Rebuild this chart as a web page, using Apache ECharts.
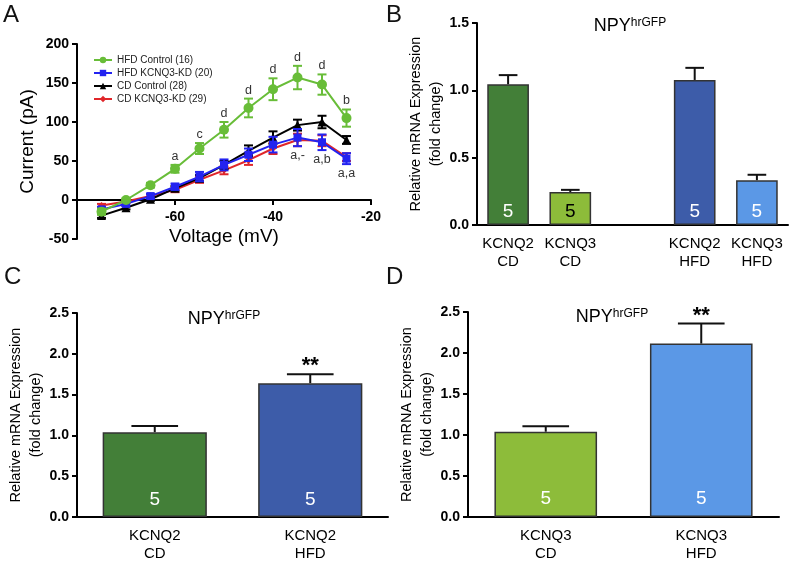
<!DOCTYPE html>
<html><head><meta charset="utf-8">
<script src="https://cdn.jsdelivr.net/npm/echarts@6/dist/echarts.min.js"></script>
<style>html,body{margin:0;padding:0;background:#fff}#c{width:790px;height:563px}</style>
</head><body><div id="c"></div>
<script>
// ---- Panel A data ----
const voltages = [-75,-70,-65,-60,-55,-50,-45,-40,-35,-30,-25];
const hfdControl    = [-15,0,19,40,66,90,118,142,157,148,105];
const hfdControlErr = [4,2,3,5,7,10,12,14,15,13,11];
const hfdKD         = [-12,-5,5,17,30,45,58,71,80,74,53];
const hfdKDErr      = [3,2,3,4,6,7,8,10,11,10,7];
const cdControl     = [-20,-10,1,15,28,45,63,80,96,100,77];
const cdControlErr  = [3,2,2,3,4,5,7,8,7,8,5];
const cdKD          = [-7,-2,5,13,26,38,51,66,77,76,55];
const cdKDErr       = [2,2,2,3,4,5,6,7,8,7,5];
const annotAbove = ['','','','a','c','d','d','d','d','d','b'];
const annotBelow = ['','','','','','','','','a,-','a,b','a,a'];
const namesA = ['HFD Control (16)','HFD KCNQ3-KD (20)','CD Control (28)','CD KCNQ3-KD (29)'];
const yTicksA = [-50,0,50,100,150,200];
const xTicksA = [-60,-40,-20];

// ---- Panel B data ----
const catB = ['KCNQ2\nCD','KCNQ3\nCD','KCNQ2\nHFD','KCNQ3\nHFD'];
const valB = [1.045,0.245,1.077,0.333];
const errB = [0.068,0.016,0.09,0.04];
const nB = [5,5,5,5];
// ---- Panel C data ----
const catC = ['KCNQ2\nCD','KCNQ2\nHFD'];
const valC = [1.04,1.64];
const errC = [0.075,0.11];
const nC = [5,5];
const sigC = ['','**'];
// ---- Panel D data ----
const catD = ['KCNQ3\nCD','KCNQ3\nHFD'];
const valD = [1.04,2.115];
const errD = [0.068,0.245];
const nD = [5,5];
const sigD = ['','**'];

const FONT = '"Liberation Sans", Arial, Helvetica, sans-serif';
const cGreen='#68bd38', cBlue='#2323f0', cBlack='#000000', cRed='#e0262a';
const barDarkGreen='#437f38', barLightGreen='#8dbc3a', barDarkBlue='#3d5ca9', barLightBlue='#5b98e6';

const chart = echarts.init(document.getElementById('c'), null, {renderer:'canvas'});

function pairs(xs, ys){ return xs.map((x,i)=>[x, ys[i]]); }
function errData(xs, ys, es){ return xs.map((x,i)=>[x, ys[i], es[i]]); }
function errRender(color){
  return function(params, api){
    const x=api.value(0), m=api.value(1), e=api.value(2);
    const p=api.coord([x,m+e]), q=api.coord([x,m-e]);
    const w=4.5;
    const st={stroke:color, lineWidth:2};
    return {type:'group', children:[
      {type:'line', shape:{x1:p[0],y1:p[1],x2:q[0],y2:q[1]}, style:st},
      {type:'line', shape:{x1:p[0]-w,y1:p[1],x2:p[0]+w,y2:p[1]}, style:st},
      {type:'line', shape:{x1:q[0]-w,y1:q[1],x2:q[0]+w,y2:q[1]}, style:st}
    ]};
  };
}
const labelStyleA = {fontFamily:FONT, fontSize:14, fontWeight:'bold', color:'#000'};
const axisLineA = {lineStyle:{color:'#000', width:2}};

function barAxisCats(cats, gapIndex){
  const out = cats.slice();
  if (gapIndex!=null) out.splice(gapIndex,0,'');
  return out;
}
function barData(vals, colors, labelColors, ns, gapIndex, dist){
  const out = vals.map((v,i)=>({value:v, itemStyle:{color:colors[i]},
    label:{show:true, formatter:String(ns[i]), color:labelColors[i], position:'insideBottom', distance:dist, fontSize:19, fontFamily:FONT}}));
  if (gapIndex!=null) out.splice(gapIndex,0,{value:null});
  return out;
}
function barErrData(vals, errs, gapIndex){
  return vals.map((v,i)=>[ (gapIndex!=null && i>=gapIndex)? i+1 : i, v, errs[i] ]);
}
function barErrRender(sigs){
  return function(params, api){
    const x=api.value(0), m=api.value(1), e=api.value(2);
    const base=api.coord([x,m]), top=api.coord([x,m+e]);
    const band=api.size([1,0])[0];
    const w=band*0.15;
    const st={stroke:'#111', lineWidth:2};
    const children=[
      {type:'line', shape:{x1:base[0],y1:base[1],x2:top[0],y2:top[1]}, style:st},
      {type:'line', shape:{x1:top[0]-w,y1:top[1],x2:top[0]+w,y2:top[1]}, style:st}
    ];
    const s = sigs ? sigs[params.dataIndex] : '';
    if (s) children.push({type:'text', x:top[0], y:top[1]-19, style:{text:s, font:'bold 22px '+FONT, fill:'#000', align:'center', verticalAlign:'top'}});
    return {type:'group', children};
  };
}
const barAxisLabel = {fontFamily:FONT, fontSize:15, color:'#000', lineHeight:18, margin:10, interval:0};
const barYLabel = {fontFamily:FONT, fontSize:14, fontWeight:'bold', color:'#000', margin:8, formatter:v=>v.toFixed(1)};
const barYName = {fontFamily:FONT, fontSize:14.5, color:'#000', lineHeight:20};
const barBorder = {borderColor:'#333', borderWidth:1.5};
const tick = {show:true, length:5, lineStyle:{width:2,color:'#000'}};

const option = {
  animation:false,
  backgroundColor:'#fff',
  textStyle:{fontFamily:FONT},
  legend:{
    data:namesA, orient:'vertical', left:88, top:50, itemWidth:18, itemHeight:8, itemGap:3,
    textStyle:{fontFamily:FONT, fontSize:10, color:'#222'}
  },
  grid:[
    {left:77, top:44, width:294, height:195},
    {left:477, top:23, width:311, height:202},
    {left:77, top:313, width:311, height:206},
    {left:468, top:312, width:311, height:206},
    {left:77, top:44, width:294, height:156}   // axis frame for panel A's zero line
  ],
  xAxis:[
    {gridIndex:0, type:'value', min:-80, max:-20, interval:20, show:false},
    {gridIndex:1, type:'category', data:barAxisCats(catB,2),
     axisLine:axisLineA, axisTick:{alignWithLabel:true, length:5, interval:(i)=>i!==2, lineStyle:{width:2,color:'#000'}},
     axisLabel:barAxisLabel},
    {gridIndex:2, type:'category', data:catC,
     axisLine:axisLineA, axisTick:{alignWithLabel:true, length:5, lineStyle:{width:2,color:'#000'}},
     axisLabel:barAxisLabel},
    {gridIndex:3, type:'category', data:catD,
     axisLine:axisLineA, axisTick:{alignWithLabel:true, length:5, lineStyle:{width:2,color:'#000'}},
     axisLabel:barAxisLabel},
    {gridIndex:4, type:'value', min:-80, max:-20, interval:20, position:'bottom',
     axisLine:Object.assign({onZero:false}, axisLineA), axisTick:tick,
     splitLine:{show:false},
     axisLabel:Object.assign({margin:10, formatter:v=> xTicksA.indexOf(v)>=0 ? String(v) : ''}, labelStyleA),
     name:'Voltage (mV)', nameLocation:'middle', nameGap:27,
     nameTextStyle:{fontFamily:FONT, fontSize:19, color:'#000'}}
  ],
  yAxis:[
    {gridIndex:0, type:'value', min:-50, max:200, interval:50,
     axisLine:Object.assign({show:true, onZero:false}, axisLineA), axisTick:tick,
     splitLine:{show:false}, axisLabel:Object.assign({margin:8}, labelStyleA),
     name:'Current (pA)', nameLocation:'middle', nameGap:40,
     nameTextStyle:{fontFamily:FONT, fontSize:19, color:'#000'}},
    {gridIndex:1, type:'value', min:0, max:1.5, interval:0.5,
     axisLine:{show:true, lineStyle:{color:'#000', width:2}}, axisTick:tick,
     splitLine:{show:false}, axisLabel:barYLabel,
     name:'Relative mRNA Expression\n(fold change)', nameLocation:'middle', nameGap:30, nameTextStyle:barYName},
    {gridIndex:2, type:'value', min:0, max:2.5, interval:0.5,
     axisLine:{show:true, lineStyle:{color:'#000', width:2}}, axisTick:tick,
     splitLine:{show:false}, axisLabel:barYLabel,
     name:'Relative mRNA Expression\n(fold change)', nameLocation:'middle', nameGap:30, nameTextStyle:barYName},
    {gridIndex:3, type:'value', min:0, max:2.5, interval:0.5,
     axisLine:{show:true, lineStyle:{color:'#000', width:2}}, axisTick:tick,
     splitLine:{show:false}, axisLabel:barYLabel,
     name:'Relative mRNA Expression\n(fold change)', nameLocation:'middle', nameGap:28, nameTextStyle:barYName},
    {gridIndex:4, type:'value', min:0, max:200, show:false}
  ],
  series:[
    {type:'custom', name:'errCDKD', xAxisIndex:0, yAxisIndex:0, data:errData(voltages,cdKD,cdKDErr), renderItem:errRender(cRed), z:2},
    {type:'line', name:namesA[3], xAxisIndex:0, yAxisIndex:0, data:pairs(voltages,cdKD), color:cRed,
     symbol:'diamond', symbolSize:7, lineStyle:{width:2}, itemStyle:{color:cRed}, z:2},
    {type:'custom', name:'errCDC', xAxisIndex:0, yAxisIndex:0, data:errData(voltages,cdControl,cdControlErr), renderItem:errRender(cBlack), z:3},
    {type:'line', name:namesA[2], xAxisIndex:0, yAxisIndex:0, data:pairs(voltages,cdControl), color:cBlack,
     symbol:'triangle', symbolSize:9, lineStyle:{width:2}, itemStyle:{color:cBlack}, z:3},
    {type:'custom', name:'errHFDKD', xAxisIndex:0, yAxisIndex:0, data:errData(voltages,hfdKD,hfdKDErr), renderItem:errRender(cBlue), z:4},
    {type:'line', name:namesA[1], xAxisIndex:0, yAxisIndex:0, data:pairs(voltages,hfdKD), color:cBlue,
     symbol:'rect', symbolSize:8, lineStyle:{width:2}, itemStyle:{color:cBlue}, z:4},
    {type:'custom', name:'errHFDC', xAxisIndex:0, yAxisIndex:0, data:errData(voltages,hfdControl,hfdControlErr), renderItem:errRender(cGreen), z:5},
    {type:'line', name:namesA[0], xAxisIndex:0, yAxisIndex:0, data:pairs(voltages,hfdControl), color:cGreen,
     symbol:'circle', symbolSize:10, lineStyle:{width:2}, itemStyle:{color:cGreen}, z:5},
    {type:'custom', name:'annot', xAxisIndex:0, yAxisIndex:0, data:voltages.map(v=>[v]), z:6,
     renderItem:function(params, api){
       const i=params.dataIndex, v=voltages[i];
       const ch=[];
       if (annotAbove[i]){
         const p=api.coord([v, hfdControl[i]+hfdControlErr[i]]);
         ch.push({type:'text', x:p[0], y:p[1]-2, style:{text:annotAbove[i], font:'12.5px '+FONT, fill:'#333', align:'center', verticalAlign:'bottom'}});
       }
       if (annotBelow[i]){
         const q=api.coord([v, hfdKD[i]-hfdKDErr[i]]);
         ch.push({type:'text', x:q[0], y:q[1]+3, style:{text:annotBelow[i], font:'12.5px '+FONT, fill:'#333', align:'center', verticalAlign:'top'}});
       }
       return {type:'group', children:ch};
     }},
    {type:'bar', name:'B', xAxisIndex:1, yAxisIndex:1, barWidth:'67%',
     data:barData(valB,[barDarkGreen,barLightGreen,barDarkBlue,barLightBlue],['#fff','#000','#fff','#fff'],nB,2,4),
     itemStyle:barBorder},
    {type:'custom', name:'errB', xAxisIndex:1, yAxisIndex:1, data:barErrData(valB,errB,2), renderItem:barErrRender(null), z:3},
    {type:'bar', name:'C', xAxisIndex:2, yAxisIndex:2, barWidth:'67%',
     data:barData(valC,[barDarkGreen,barDarkBlue],['#fff','#fff'],nC,null,8),
     itemStyle:barBorder},
    {type:'custom', name:'errC', xAxisIndex:2, yAxisIndex:2, data:barErrData(valC,errC,null), renderItem:barErrRender(sigC), z:3},
    {type:'bar', name:'D', xAxisIndex:3, yAxisIndex:3, barWidth:'66%',
     data:barData(valD,[barLightGreen,barLightBlue],['#fff','#fff'],nD,null,9),
     itemStyle:barBorder},
    {type:'custom', name:'errD', xAxisIndex:3, yAxisIndex:3, data:barErrData(valD,errD,null), renderItem:barErrRender(sigD), z:3}
  ],
  graphic:[
    {type:'text', left:3, top:3, style:{text:'A', font:'24px '+FONT, fill:'#111'}},
    {type:'text', left:386, top:3, style:{text:'B', font:'24px '+FONT, fill:'#111'}},
    {type:'text', left:4, top:265, style:{text:'C', font:'24px '+FONT, fill:'#111'}},
    {type:'text', left:386, top:265, style:{text:'D', font:'24px '+FONT, fill:'#111'}},
    {type:'text', x:630, y:26, style:{text:'{n|NPY}{s|hrGFP}', align:'center', verticalAlign:'middle',
      rich:{n:{fontSize:18, fontFamily:FONT, color:'#000'}, s:{fontSize:12, fontFamily:FONT, color:'#000', verticalAlign:'top'}}}},
    {type:'text', x:224, y:319, style:{text:'{n|NPY}{s|hrGFP}', align:'center', verticalAlign:'middle',
      rich:{n:{fontSize:18, fontFamily:FONT, color:'#000'}, s:{fontSize:12, fontFamily:FONT, color:'#000', verticalAlign:'top'}}}},
    {type:'text', x:612, y:317, style:{text:'{n|NPY}{s|hrGFP}', align:'center', verticalAlign:'middle',
      rich:{n:{fontSize:18, fontFamily:FONT, color:'#000'}, s:{fontSize:12, fontFamily:FONT, color:'#000', verticalAlign:'top'}}}}
  ]
};
chart.setOption(option);
</script>
</body></html>
